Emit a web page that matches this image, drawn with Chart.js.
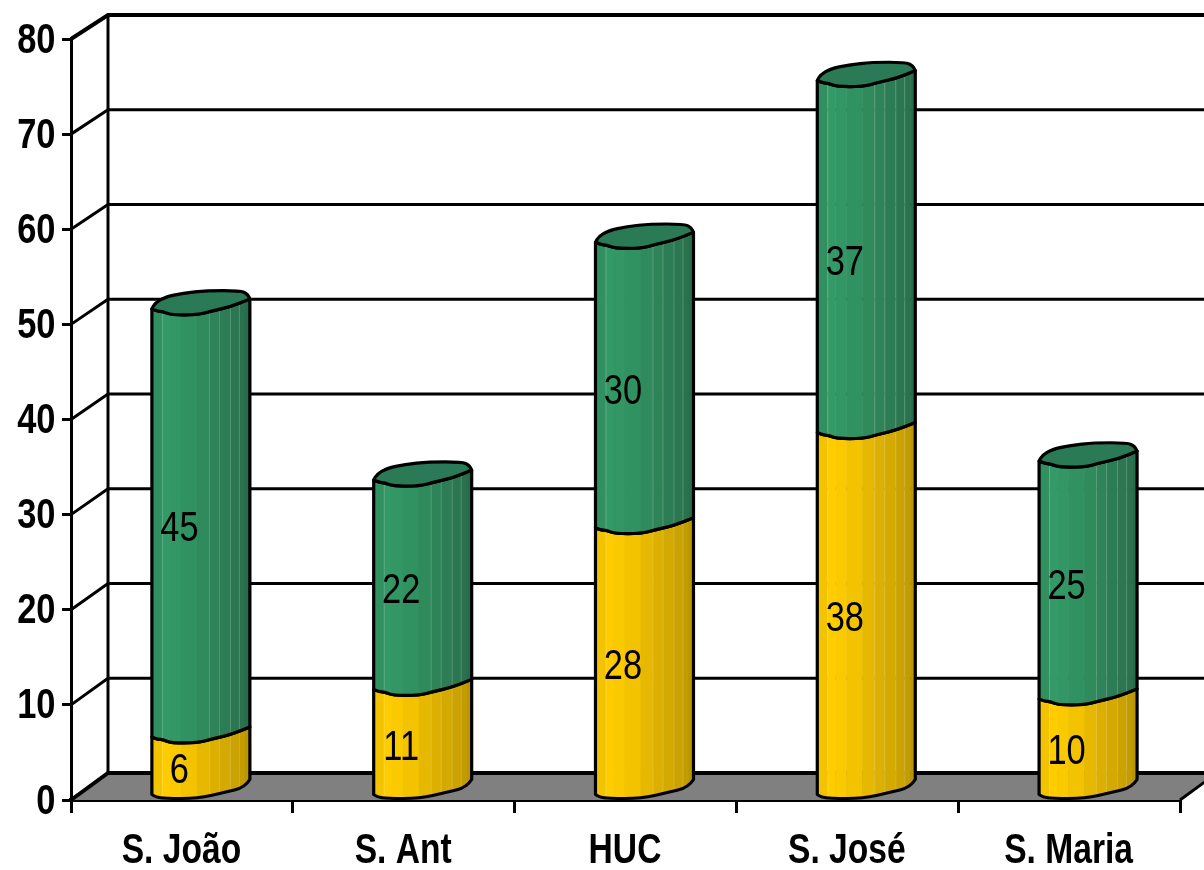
<!DOCTYPE html>
<html>
<head>
<meta charset="utf-8">
<style>html,body{margin:0;padding:0;background:#fff}canvas{display:block}</style>
<script src="https://cdn.jsdelivr.net/npm/chart.js@4"></script>
</head>
<body>
<canvas id="c" width="1204" height="870"></canvas>
<script>
const categories = ['S. João', 'S. Ant', 'HUC', 'S. José', 'S. Maria'];
const yellowValues = [6, 11, 28, 38, 10];
const greenValues = [45, 22, 30, 37, 25];
const yTicks = [0, 10, 20, 30, 40, 50, 60, 70, 80];

const FONT = '"Liberation Sans",Arial,sans-serif';
const DEPTH_X = 37;
const SHIFT = 19;
const stripEdges = [0, 10, 18, 29, 45, 57, 67, 78, 87, 93, 98];
const yellowStrips = ['#F4C300','#FFCC00','#FBC900','#F4C300','#E6B800','#DDB000','#D4AA00','#CBA200','#C39C00','#BC9600'];
const greenStrips = ['#309060','#339966','#329665','#319261','#2F8A5C','#2E8358','#2C7D55','#2B7751','#2A724E','#286D4B'];
const capColor = '#2A7A55';
const frontCurve = [[0,-6],[6,-3.5],[11,-3.5],[19,0],[46,0],[59,-3.7],[79,-8.3],[98,-16]];
const backCurve = [[98,-16],[96,-21],[88,-24.3],[55,-24.3],[31,-21.7],[13,-17.7],[3,-11.7],[0,-6]];
const floorCurve = [[0,-4],[4,-1.5],[13,0],[46,0],[72,-6],[93,-11],[98,-19]];

function backY(y, v){ return y - (27 - 3 * v / 80); }

function trace(ctx, pts, x0, y0, move){
  pts.forEach((p, i) => {
    const px = x0 + p[0], py = y0 + p[1];
    if (i === 0) { if (move) ctx.moveTo(px, py); else ctx.lineTo(px, py); return; }
    if (i === pts.length - 1) { ctx.lineTo(px, py); return; }
    const n = pts[i + 1];
    ctx.quadraticCurveTo(px, py, x0 + (p[0] + n[0]) / 2, y0 + (p[1] + n[1]) / 2);
  });
}

function narrowText(ctx, text, x, y, font, xScale, align){
  ctx.save();
  ctx.translate(x, y);
  ctx.scale(xScale, 1);
  ctx.font = font;
  ctx.fillStyle = '#000';
  ctx.textAlign = align;
  ctx.textBaseline = 'middle';
  ctx.fillText(text, 0, 0);
  ctx.restore();
}

const wall3d = {
  id: 'wall3d',
  beforeDatasetsDraw(chart){
    const ctx = chart.ctx, ys = chart.scales.y, a = chart.chartArea;
    const L = a.left, R = a.right, bx = L + DEPTH_X;
    const y0 = ys.getPixelForValue(0), by0 = backY(y0, 0);
    ctx.save();
    ctx.lineJoin = 'miter';
    ctx.beginPath();
    ctx.moveTo(L, y0); ctx.lineTo(bx, by0); ctx.lineTo(R + DEPTH_X, by0); ctx.lineTo(R, y0); ctx.closePath();
    ctx.fillStyle = '#808080'; ctx.fill();
    ctx.strokeStyle = '#000'; ctx.lineWidth = 3;
    ctx.beginPath(); ctx.moveTo(R, y0); ctx.lineTo(R + DEPTH_X, by0); ctx.stroke();
    yTicks.forEach(v => {
      const y = ys.getPixelForValue(v), by = backY(y, v);
      ctx.lineWidth = (v === 0 || v === 80) ? 4 : 3;
      ctx.beginPath(); ctx.moveTo(L, y); ctx.lineTo(bx, by); ctx.lineTo(R + DEPTH_X, by); ctx.stroke();
    });
    const top = backY(ys.getPixelForValue(80), 80);
    ctx.lineWidth = 3;
    ctx.beginPath(); ctx.moveTo(bx, top); ctx.lineTo(bx, by0); ctx.stroke();
    ctx.restore();
  }
};

const cylinders = {
  id: 'cylinders',
  beforeDatasetDraw(){ return false; },
  afterDatasetsDraw(chart){
    const ctx = chart.ctx;
    const palettes = [yellowStrips, greenStrips];
    chart.data.datasets.forEach((ds, di) => {
      chart.getDatasetMeta(di).data.forEach(el => {
        const x0 = el.x - el.width / 2 + SHIFT;
        const isBottom = di === 0;
        ctx.save();
        ctx.beginPath();
        trace(ctx, frontCurve, x0, el.y, true);
        const baseCurve = (isBottom ? floorCurve : frontCurve).slice().reverse();
        trace(ctx, baseCurve, x0, el.base, false);
        ctx.closePath();
        ctx.save();
        ctx.clip();
        stripEdges.slice(0, -1).forEach((e, i) => {
          ctx.fillStyle = palettes[di][i];
          ctx.fillRect(x0 + e, el.y - 30, stripEdges[i + 1] - e + 0.5, el.base - el.y + 40);
        });
        ctx.fillStyle = 'rgba(255,255,255,0.2)';
        [10, 57, 67, 78, 87].forEach(e => ctx.fillRect(x0 + e, el.y - 30, 1, el.base - el.y + 40));
        ctx.restore();
        ctx.strokeStyle = '#000'; ctx.lineWidth = 3.2; ctx.lineJoin = 'round'; ctx.lineCap = 'round';
        ctx.stroke();
        ctx.restore();
      });
    });
    const last = chart.data.datasets.length - 1;
    chart.getDatasetMeta(last).data.forEach(el => {
      const x0 = el.x - el.width / 2 + SHIFT;
      ctx.save();
      ctx.beginPath();
      trace(ctx, frontCurve, x0, el.y, true);
      trace(ctx, backCurve, x0, el.y, false);
      ctx.closePath();
      ctx.fillStyle = capColor; ctx.fill();
      ctx.strokeStyle = '#000'; ctx.lineWidth = 3.2; ctx.lineJoin = 'round';
      ctx.stroke();
      ctx.restore();
    });
    chart.data.datasets.forEach((ds, di) => {
      chart.getDatasetMeta(di).data.forEach((el, j) => {
        const x0 = el.x - el.width / 2 + SHIFT;
        narrowText(ctx, String(ds.data[j]), x0 + 27.5, (el.y + el.base) / 2 + 1, '42px ' + FONT, 0.82, 'center');
      });
    });
    const ys = chart.scales.y, xs = chart.scales.x;
    ys.ticks.forEach(t => {
      narrowText(ctx, String(t.value), 55.5, ys.getPixelForValue(t.value) + 2, 'bold 42px ' + FONT, 0.82, 'right');
    });
    chart.data.labels.forEach((lab, i) => {
      narrowText(ctx, lab, xs.getPixelForValue(i) - 0.5, 851, 'bold 42px ' + FONT, 0.8, 'center');
    });
  }
};

new Chart(document.getElementById('c').getContext('2d'), {
  type: 'bar',
  data: {
    labels: categories,
    datasets: [
      { label: 'A', data: yellowValues, backgroundColor: '#FFCC00', borderColor: '#000', barPercentage: 0.442, categoryPercentage: 1, stack: 's' },
      { label: 'B', data: greenValues, backgroundColor: '#339966', borderColor: '#000', barPercentage: 0.442, categoryPercentage: 1, stack: 's' }
    ]
  },
  options: {
    responsive: false,
    animation: false,
    events: [],
    layout: { padding: { top: 39, right: 24, left: 0, bottom: 0 } },
    plugins: { legend: { display: false }, tooltip: { enabled: false }, title: { display: false } },
    scales: {
      x: {
        stacked: true,
        afterFit(s){ s.height = 70; },
        grid: { display: true, drawOnChartArea: false, drawTicks: true, tickLength: 13, color: '#000', lineWidth: 3, offset: true },
        border: { display: true, color: '#000', width: 4 },
        ticks: { display: false, maxRotation: 0, autoSkip: false }
      },
      y: {
        stacked: true,
        min: 0, max: 80,
        afterFit(s){ s.width = 71; },
        afterBuildTicks(s){ s.ticks = yTicks.map(v => ({ value: v })); },
        grid: { display: true, drawOnChartArea: false, drawTicks: true, tickLength: 9, color: '#000', lineWidth: 3 },
        border: { display: true, color: '#000', width: 3 },
        ticks: { display: false }
      }
    }
  },
  plugins: [wall3d, cylinders]
});
</script>
</body>
</html>
